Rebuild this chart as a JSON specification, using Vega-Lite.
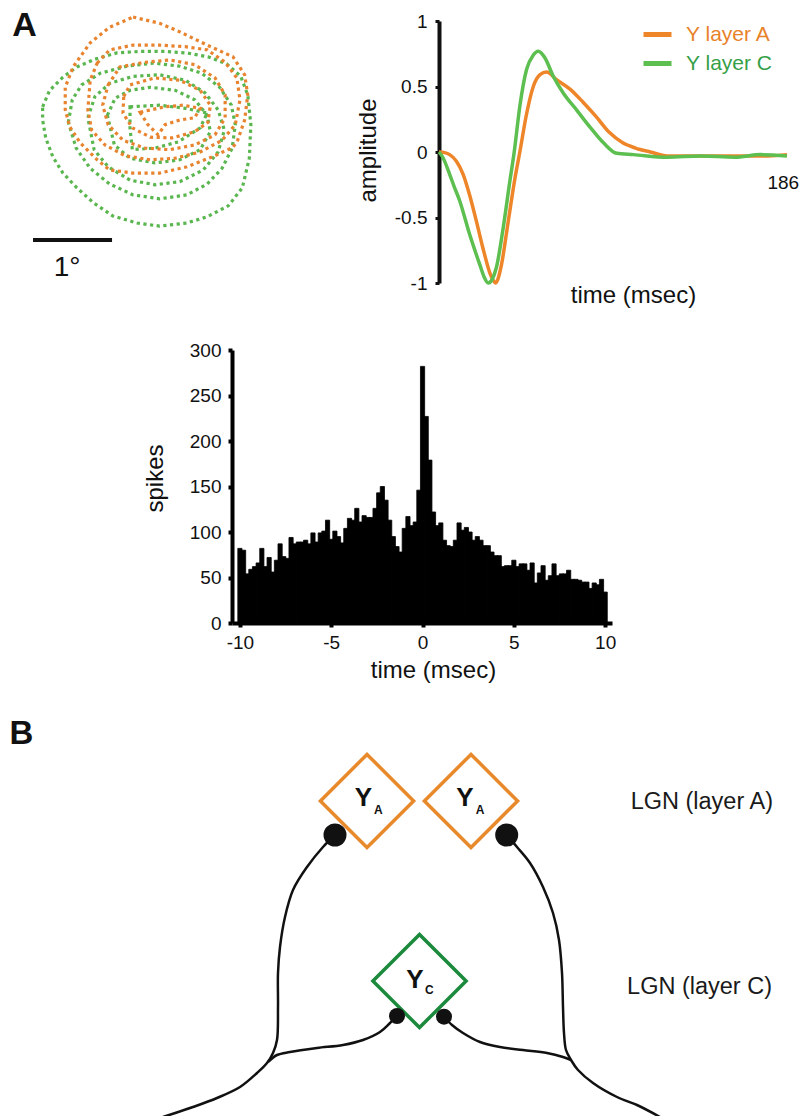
{
"$schema": "https://vega.github.io/schema/vega-lite/v6.json",
"width": 807, "height": 1116,
"autosize": {"type": "none"},
"padding": 0,
"background": "white",
"config": {"view": {"stroke": null}, "font": "Liberation Sans", "axis": {"grid": false}},
"resolve": {"scale": {"x": "independent", "y": "independent", "color": "independent", "stroke": "independent", "size": "independent"}, "axis": {"x": "independent", "y": "independent"}, "legend": {"color": "independent", "stroke": "independent", "size": "independent"}},
"layer": [
{
 "layer": [
  {
   "data": {"values": [
    {"c":"G1","l":"C","x":0.29,"y":1.58},{"c":"G1","l":"C","x":0.38,"y":1.79},{"c":"G1","l":"C","x":0.55,"y":1.96},{"c":"G1","l":"C","x":0.73,"y":2.09},{"c":"G1","l":"C","x":0.96,"y":2.19},{"c":"G1","l":"C","x":1.24,"y":2.27},{"c":"G1","l":"C","x":1.54,"y":2.29},{"c":"G1","l":"C","x":1.83,"y":2.29},{"c":"G1","l":"C","x":2.14,"y":2.27},{"c":"G1","l":"C","x":2.41,"y":2.22},{"c":"G1","l":"C","x":2.65,"y":2.13},{"c":"G1","l":"C","x":2.83,"y":1.97},{"c":"G1","l":"C","x":2.92,"y":1.73},{"c":"G1","l":"C","x":2.96,"y":1.35},{"c":"G1","l":"C","x":2.94,"y":0.92},{"c":"G1","l":"C","x":2.85,"y":0.54},{"c":"G1","l":"C","x":2.67,"y":0.31},{"c":"G1","l":"C","x":2.40,"y":0.17},{"c":"G1","l":"C","x":2.14,"y":0.09},{"c":"G1","l":"C","x":1.79,"y":0.05},{"c":"G1","l":"C","x":1.50,"y":0.09},{"c":"G1","l":"C","x":1.19,"y":0.18},{"c":"G1","l":"C","x":0.94,"y":0.35},{"c":"G1","l":"C","x":0.73,"y":0.54},{"c":"G1","l":"C","x":0.55,"y":0.73},{"c":"G1","l":"C","x":0.42,"y":0.94},{"c":"G1","l":"C","x":0.33,"y":1.18},{"c":"G1","l":"C","x":0.29,"y":1.41},
    {"c":"G2","l":"C","x":0.62,"y":1.38},{"c":"G2","l":"C","x":0.67,"y":1.67},{"c":"G2","l":"C","x":0.79,"y":1.86},{"c":"G2","l":"C","x":1.03,"y":2.01},{"c":"G2","l":"C","x":1.37,"y":2.10},{"c":"G2","l":"C","x":1.71,"y":2.14},{"c":"G2","l":"C","x":2.05,"y":2.10},{"c":"G2","l":"C","x":2.33,"y":2.01},{"c":"G2","l":"C","x":2.56,"y":1.83},{"c":"G2","l":"C","x":2.71,"y":1.60},{"c":"G2","l":"C","x":2.76,"y":1.35},{"c":"G2","l":"C","x":2.72,"y":1.05},{"c":"G2","l":"C","x":2.59,"y":0.79},{"c":"G2","l":"C","x":2.40,"y":0.59},{"c":"G2","l":"C","x":2.14,"y":0.45},{"c":"G2","l":"C","x":1.79,"y":0.40},{"c":"G2","l":"C","x":1.45,"y":0.45},{"c":"G2","l":"C","x":1.15,"y":0.59},{"c":"G2","l":"C","x":0.90,"y":0.79},{"c":"G2","l":"C","x":0.72,"y":1.05},
    {"c":"G3","l":"C","x":0.87,"y":1.44},{"c":"G3","l":"C","x":0.96,"y":1.71},{"c":"G3","l":"C","x":1.15,"y":1.88},{"c":"G3","l":"C","x":1.45,"y":1.97},{"c":"G3","l":"C","x":1.79,"y":1.99},{"c":"G3","l":"C","x":2.12,"y":1.92},{"c":"G3","l":"C","x":2.37,"y":1.76},{"c":"G3","l":"C","x":2.54,"y":1.54},{"c":"G3","l":"C","x":2.62,"y":1.28},{"c":"G3","l":"C","x":2.54,"y":1.00},{"c":"G3","l":"C","x":2.35,"y":0.77},{"c":"G3","l":"C","x":2.05,"y":0.62},{"c":"G3","l":"C","x":1.73,"y":0.58},{"c":"G3","l":"C","x":1.41,"y":0.64},{"c":"G3","l":"C","x":1.13,"y":0.81},{"c":"G3","l":"C","x":0.95,"y":1.03},
    {"c":"G4","l":"C","x":1.12,"y":1.47},{"c":"G4","l":"C","x":1.22,"y":1.69},{"c":"G4","l":"C","x":1.41,"y":1.79},{"c":"G4","l":"C","x":1.67,"y":1.83},{"c":"G4","l":"C","x":1.99,"y":1.79},{"c":"G4","l":"C","x":2.24,"y":1.67},{"c":"G4","l":"C","x":2.40,"y":1.47},{"c":"G4","l":"C","x":2.44,"y":1.26},{"c":"G4","l":"C","x":2.31,"y":1.03},{"c":"G4","l":"C","x":2.05,"y":0.90},{"c":"G4","l":"C","x":1.73,"y":0.86},{"c":"G4","l":"C","x":1.41,"y":0.92},{"c":"G4","l":"C","x":1.21,"y":1.09},
    {"c":"G5","l":"C","x":1.41,"y":1.58},{"c":"G5","l":"C","x":1.79,"y":1.60},{"c":"G5","l":"C","x":2.12,"y":1.56},{"c":"G5","l":"C","x":2.40,"y":1.50},{"c":"G5","l":"C","x":2.31,"y":1.31},{"c":"G5","l":"C","x":2.03,"y":1.13},{"c":"G5","l":"C","x":1.73,"y":1.05},{"c":"G5","l":"C","x":1.44,"y":1.03},{"c":"G5","l":"C","x":1.41,"y":1.31},
    {"c":"O1","l":"A","x":1.45,"y":2.73},{"c":"O1","l":"A","x":1.79,"y":2.65},{"c":"O1","l":"A","x":2.05,"y":2.54},{"c":"O1","l":"A","x":2.40,"y":2.37},{"c":"O1","l":"A","x":2.73,"y":2.22},{"c":"O1","l":"A","x":2.88,"y":1.99},{"c":"O1","l":"A","x":2.92,"y":1.73},{"c":"O1","l":"A","x":2.88,"y":1.41},{"c":"O1","l":"A","x":2.79,"y":1.15},{"c":"O1","l":"A","x":2.73,"y":1.06},{"c":"O1","l":"A","x":2.47,"y":0.94},{"c":"O1","l":"A","x":2.14,"y":0.81},{"c":"O1","l":"A","x":1.79,"y":0.73},{"c":"O1","l":"A","x":1.45,"y":0.73},{"c":"O1","l":"A","x":1.15,"y":0.77},{"c":"O1","l":"A","x":0.99,"y":0.90},{"c":"O1","l":"A","x":0.77,"y":1.12},{"c":"O1","l":"A","x":0.64,"y":1.32},{"c":"O1","l":"A","x":0.58,"y":1.54},{"c":"O1","l":"A","x":0.58,"y":1.83},{"c":"O1","l":"A","x":0.68,"y":2.09},{"c":"O1","l":"A","x":0.90,"y":2.40},{"c":"O1","l":"A","x":1.15,"y":2.60},
    {"c":"O2","l":"A","x":0.99,"y":2.14},{"c":"O2","l":"A","x":1.15,"y":2.31},{"c":"O2","l":"A","x":1.45,"y":2.37},{"c":"O2","l":"A","x":1.79,"y":2.37},{"c":"O2","l":"A","x":2.12,"y":2.35},{"c":"O2","l":"A","x":2.40,"y":2.31},{"c":"O2","l":"A","x":2.63,"y":2.15},{"c":"O2","l":"A","x":2.78,"y":1.95},{"c":"O2","l":"A","x":2.82,"y":1.67},{"c":"O2","l":"A","x":2.76,"y":1.35},{"c":"O2","l":"A","x":2.59,"y":1.15},{"c":"O2","l":"A","x":2.31,"y":1.00},{"c":"O2","l":"A","x":1.99,"y":0.92},{"c":"O2","l":"A","x":1.67,"y":0.90},{"c":"O2","l":"A","x":1.35,"y":0.95},{"c":"O2","l":"A","x":1.09,"y":1.09},{"c":"O2","l":"A","x":0.92,"y":1.28},{"c":"O2","l":"A","x":0.87,"y":1.54},{"c":"O2","l":"A","x":0.90,"y":1.92},
    {"c":"O3","l":"A","x":1.13,"y":1.86},{"c":"O3","l":"A","x":1.28,"y":2.09},{"c":"O3","l":"A","x":1.60,"y":2.15},{"c":"O3","l":"A","x":1.92,"y":2.18},{"c":"O3","l":"A","x":2.24,"y":2.12},{"c":"O3","l":"A","x":2.50,"y":1.95},{"c":"O3","l":"A","x":2.63,"y":1.73},{"c":"O3","l":"A","x":2.63,"y":1.44},{"c":"O3","l":"A","x":2.50,"y":1.22},{"c":"O3","l":"A","x":2.24,"y":1.09},{"c":"O3","l":"A","x":1.92,"y":1.03},{"c":"O3","l":"A","x":1.60,"y":1.05},{"c":"O3","l":"A","x":1.32,"y":1.15},{"c":"O3","l":"A","x":1.13,"y":1.35},{"c":"O3","l":"A","x":1.06,"y":1.60},
    {"c":"O4","l":"A","x":1.33,"y":1.71},{"c":"O4","l":"A","x":1.41,"y":1.86},{"c":"O4","l":"A","x":1.73,"y":1.95},{"c":"O4","l":"A","x":2.05,"y":1.92},{"c":"O4","l":"A","x":2.31,"y":1.79},{"c":"O4","l":"A","x":2.44,"y":1.60},{"c":"O4","l":"A","x":2.41,"y":1.38},{"c":"O4","l":"A","x":2.24,"y":1.26},{"c":"O4","l":"A","x":1.95,"y":1.18},{"c":"O4","l":"A","x":1.67,"y":1.19},{"c":"O4","l":"A","x":1.44,"y":1.31},{"c":"O4","l":"A","x":1.32,"y":1.50},
    {"c":"O5","l":"A","x":1.54,"y":1.51},{"c":"O5","l":"A","x":1.86,"y":1.58},{"c":"O5","l":"A","x":2.09,"y":1.60},{"c":"O5","l":"A","x":2.31,"y":1.56},{"c":"O5","l":"A","x":2.24,"y":1.44},{"c":"O5","l":"A","x":2.05,"y":1.41},{"c":"O5","l":"A","x":1.86,"y":1.35},{"c":"O5","l":"A","x":1.77,"y":1.22},{"c":"O5","l":"A","x":1.64,"y":1.35}
   ]},
   "mark": {"type": "line", "interpolate": "linear-closed", "strokeDash": [3.2, 3.5], "strokeWidth": 3.2},
   "encoding": {
    "x": {"field": "x", "type": "quantitative", "scale": {"domain": [-0.2564, 3.0769], "range": [0, 260], "nice": false, "zero": false}, "axis": null},
    "y": {"field": "y", "type": "quantitative", "scale": {"domain": [-0.7692, 2.9487], "range": [290, 0], "nice": false, "zero": false}, "axis": null},
    "detail": {"field": "c"},
    "order": {"value": null},
    "stroke": {"field": "l", "type": "nominal", "scale": {"domain": ["A", "C"], "range": ["#e8842f", "#5ab64f"]}, "legend": null}
   }
  },
  {
   "data": {"values": [{"x": 0.167, "x2": 1.18, "y": -0.128}]},
   "mark": {"type": "rule", "color": "#111", "strokeWidth": 4},
   "encoding": {"x": {"field": "x", "type": "quantitative"}, "x2": {"field": "x2"}, "y": {"field": "y", "type": "quantitative"}}
  },
  {
   "data": {"values": [{"x": 0.603, "y": -0.49, "t": "1°"}]},
   "mark": {"type": "text", "fontSize": 28, "align": "center", "baseline": "middle", "color": "#111"},
   "encoding": {"x": {"field": "x", "type": "quantitative"}, "y": {"field": "y", "type": "quantitative"}, "text": {"field": "t"}}
  },
  {
   "data": {"values": [{"x": 0.058, "y": 2.62, "t": "A"}]},
   "mark": {"type": "text", "fontSize": 34, "fontWeight": "bold", "align": "center", "baseline": "middle", "color": "#111"},
   "encoding": {"x": {"field": "x", "type": "quantitative"}, "y": {"field": "y", "type": "quantitative"}, "text": {"field": "t"}}
  }
 ]
},
{
 "layer": [
  {
   "data": {"values": [
    {"s":"Y layer A","t":0,"a":0},{"s":"Y layer A","t":3,"a":-0.005},{"s":"Y layer A","t":5.7,"a":-0.02},{"s":"Y layer A","t":9.3,"a":-0.07},{"s":"Y layer A","t":12.9,"a":-0.17},{"s":"Y layer A","t":16.4,"a":-0.33},{"s":"Y layer A","t":20,"a":-0.53},{"s":"Y layer A","t":23.6,"a":-0.74},{"s":"Y layer A","t":27.1,"a":-0.92},{"s":"Y layer A","t":29,"a":-0.98},{"s":"Y layer A","t":30.2,"a":-1.0},{"s":"Y layer A","t":31.5,"a":-0.97},{"s":"Y layer A","t":33.4,"a":-0.86},{"s":"Y layer A","t":37,"a":-0.53},{"s":"Y layer A","t":40.6,"a":-0.2},{"s":"Y layer A","t":43.2,"a":0},{"s":"Y layer A","t":46.8,"a":0.29},{"s":"Y layer A","t":50.4,"a":0.5},{"s":"Y layer A","t":54,"a":0.59},{"s":"Y layer A","t":57.5,"a":0.61},{"s":"Y layer A","t":63,"a":0.55},{"s":"Y layer A","t":70,"a":0.48},{"s":"Y layer A","t":77,"a":0.38},{"s":"Y layer A","t":84,"a":0.27},{"s":"Y layer A","t":91,"a":0.15},{"s":"Y layer A","t":98.2,"a":0.07},{"s":"Y layer A","t":105,"a":0.03},{"s":"Y layer A","t":113,"a":0},{"s":"Y layer A","t":122,"a":-0.03},{"s":"Y layer A","t":140,"a":-0.03},{"s":"Y layer A","t":158,"a":-0.03},{"s":"Y layer A","t":176,"a":-0.03},{"s":"Y layer A","t":186,"a":-0.02},
    {"s":"Y layer C","t":0,"a":0},{"s":"Y layer C","t":2,"a":-0.04},{"s":"Y layer C","t":5.7,"a":-0.17},{"s":"Y layer C","t":8,"a":-0.26},{"s":"Y layer C","t":11,"a":-0.37},{"s":"Y layer C","t":16.4,"a":-0.63},{"s":"Y layer C","t":21.8,"a":-0.86},{"s":"Y layer C","t":24,"a":-0.95},{"s":"Y layer C","t":26.3,"a":-1.0},{"s":"Y layer C","t":28.5,"a":-0.97},{"s":"Y layer C","t":30.7,"a":-0.88},{"s":"Y layer C","t":34.3,"a":-0.58},{"s":"Y layer C","t":37.9,"a":-0.22},{"s":"Y layer C","t":40.2,"a":0},{"s":"Y layer C","t":43.2,"a":0.35},{"s":"Y layer C","t":46.8,"a":0.63},{"s":"Y layer C","t":50.4,"a":0.74},{"s":"Y layer C","t":53,"a":0.77},{"s":"Y layer C","t":56.6,"a":0.72},{"s":"Y layer C","t":61,"a":0.58},{"s":"Y layer C","t":66.4,"a":0.45},{"s":"Y layer C","t":73.6,"a":0.32},{"s":"Y layer C","t":80.7,"a":0.19},{"s":"Y layer C","t":87.9,"a":0.07},{"s":"Y layer C","t":95,"a":-0.01},{"s":"Y layer C","t":104,"a":-0.02},{"s":"Y layer C","t":122,"a":-0.04},{"s":"Y layer C","t":140,"a":-0.03},{"s":"Y layer C","t":158,"a":-0.04},{"s":"Y layer C","t":172,"a":-0.02},{"s":"Y layer C","t":186,"a":-0.03}
   ]},
   "mark": {"type": "line", "interpolate": "monotone", "strokeWidth": 3.5},
   "encoding": {
    "x": {"field": "t", "type": "quantitative", "scale": {"domain": [0, 186], "range": [439, 787], "nice": false, "zero": false},
          "axis": {"orient": "bottom", "offset": -833, "domain": false, "ticks": false, "labels": false, "title": "time (msec)", "titleFontSize": 24, "titleFontWeight": "normal", "titleColor": "#111", "titleX": 633, "titleY": 12, "titleBaseline": "middle", "titleAlign": "center"}},
    "y": {"field": "a", "type": "quantitative", "scale": {"domain": [-1, 1], "range": [283, 21], "nice": false, "zero": false},
          "axis": {"orient": "left", "offset": -439, "values": [-1, -0.5, 0, 0.5, 1], "labelExpr": "toString(datum.value)", "domainColor": "#111", "domainWidth": 4, "tickColor": "#111", "tickWidth": 3, "tickSize": 4, "labelFontSize": 19, "labelPadding": 8, "labelColor": "#111", "labelFlush": false, "labelOverlap": false, "title": "amplitude", "titleFontSize": 24, "titleFontWeight": "normal", "titleColor": "#111", "titleX": -71, "titleY": 150, "titleAngle": -90, "titleBaseline": "middle", "titleAlign": "center"}},
    "color": {"field": "s", "type": "nominal", "scale": {"domain": ["Y layer A", "Y layer C"], "range": ["#ee8529", "#5cbf4f"]},
      "legend": {"orient": "none", "legendX": 641, "legendY": 18, "title": null, "symbolType": "stroke", "symbolSize": 784, "symbolStrokeWidth": 5, "labelFontSize": 21, "labelOffset": 12, "rowPadding": 2, "padding": 0,
        "encode": {"labels": {"update": {"fill": {"signal": "datum.label === 'Y layer A' ? '#e8822a' : '#35a047'"}}}}}}
   }
  },
  {
   "mark": {"type": "rule", "color": "#111", "strokeWidth": 4},
   "encoding": {"x": {"datum": 0}, "x2": {"datum": 186}, "y": {"datum": 0}}
  },
  {
   "data": {"values": [{"t": 184, "a": -0.24, "label": "186"}]},
   "mark": {"type": "text", "fontSize": 19, "align": "center", "baseline": "middle", "color": "#111"},
   "encoding": {"x": {"field": "t", "type": "quantitative"}, "y": {"field": "a", "type": "quantitative"}, "text": {"field": "label"}}
  }
 ]
},
{
 "data": {"values": [
  {"t":-10,"n":82},{"t":-9.8,"n":80},{"t":-9.6,"n":54},{"t":-9.4,"n":59},{"t":-9.2,"n":62},{"t":-9,"n":66},{"t":-8.8,"n":82},{"t":-8.6,"n":62},{"t":-8.4,"n":72},{"t":-8.2,"n":56},
  {"t":-8,"n":69},{"t":-7.8,"n":87},{"t":-7.6,"n":73},{"t":-7.4,"n":71},{"t":-7.2,"n":94},{"t":-7,"n":87},{"t":-6.8,"n":89},{"t":-6.6,"n":89},{"t":-6.4,"n":91},{"t":-6.2,"n":87},
  {"t":-6,"n":99},{"t":-5.8,"n":89},{"t":-5.6,"n":99},{"t":-5.4,"n":101},{"t":-5.2,"n":113},{"t":-5,"n":92},{"t":-4.8,"n":101},{"t":-4.6,"n":95},{"t":-4.4,"n":88},{"t":-4.2,"n":104},
  {"t":-4,"n":115},{"t":-3.8,"n":113},{"t":-3.6,"n":126},{"t":-3.4,"n":111},{"t":-3.2,"n":118},{"t":-3,"n":116},{"t":-2.8,"n":116},{"t":-2.6,"n":126},{"t":-2.4,"n":143},{"t":-2.2,"n":150},
  {"t":-2,"n":135},{"t":-1.8,"n":113},{"t":-1.6,"n":95},{"t":-1.4,"n":84},{"t":-1.2,"n":78},{"t":-1,"n":104},{"t":-0.8,"n":117},{"t":-0.6,"n":107},{"t":-0.4,"n":111},{"t":-0.2,"n":146},
  {"t":0,"n":282},{"t":0.2,"n":227},{"t":0.4,"n":179},{"t":0.6,"n":122},{"t":0.8,"n":107},{"t":1,"n":110},{"t":1.2,"n":91},{"t":1.4,"n":85},{"t":1.6,"n":84},{"t":1.8,"n":91},
  {"t":2,"n":110},{"t":2.2,"n":102},{"t":2.4,"n":105},{"t":2.6,"n":100},{"t":2.8,"n":91},{"t":3,"n":95},{"t":3.2,"n":91},{"t":3.4,"n":85},{"t":3.6,"n":85},{"t":3.8,"n":78},
  {"t":4,"n":74},{"t":4.2,"n":74},{"t":4.4,"n":62},{"t":4.6,"n":63},{"t":4.8,"n":63},{"t":5,"n":69},{"t":5.2,"n":62},{"t":5.4,"n":65},{"t":5.6,"n":65},{"t":5.8,"n":58},
  {"t":6,"n":66},{"t":6.2,"n":44},{"t":6.4,"n":55},{"t":6.6,"n":63},{"t":6.8,"n":47},{"t":7,"n":52},{"t":7.2,"n":65},{"t":7.4,"n":52},{"t":7.6,"n":54},{"t":7.8,"n":54},
  {"t":8,"n":58},{"t":8.2,"n":48},{"t":8.4,"n":48},{"t":8.6,"n":47},{"t":8.8,"n":45},{"t":9,"n":45},{"t":9.2,"n":38},{"t":9.4,"n":44},{"t":9.6,"n":42},{"t":9.8,"n":48},
  {"t":10,"n":34}
 ]},
 "mark": {"type": "bar", "width": 4.2, "color": "#000", "stroke": "#000", "strokeWidth": 0.8, "strokeJoin": "miter"},
 "encoding": {
  "x": {"field": "t", "type": "quantitative", "scale": {"domain": [-10.16, 10.1], "range": [232, 612], "nice": false, "zero": false},
        "axis": {"orient": "bottom", "offset": -493, "values": [-10, -5, 0, 5, 10], "labelExpr": "toString(datum.value)", "domainColor": "#000", "domainWidth": 4, "tickColor": "#000", "tickWidth": 4, "tickSize": 4, "labelFontSize": 19, "labelPadding": 6, "labelColor": "#111", "labelFlush": false, "labelOverlap": false, "title": "time (msec)", "titleFontSize": 24, "titleFontWeight": "normal", "titleColor": "#111", "titleX": 433, "titleY": 47, "titleBaseline": "middle", "titleAlign": "center"}},
  "y": {"field": "n", "type": "quantitative", "scale": {"domain": [0, 300], "range": [623, 350], "nice": false, "zero": false},
        "axis": {"orient": "left", "offset": -232, "values": [0, 50, 100, 150, 200, 250, 300], "domainColor": "#000", "domainWidth": 4, "tickColor": "#000", "tickWidth": 4, "tickSize": 4, "labelFontSize": 19, "labelPadding": 7, "labelColor": "#111", "labelFlush": false, "labelOverlap": false, "title": "spikes", "titleFontSize": 24, "titleFontWeight": "normal", "titleColor": "#111", "titleX": -77, "titleY": 478, "titleAngle": -90, "titleBaseline": "middle", "titleAlign": "center"}}
 }
},
{
 "layer": [
  {
   "data": {"values": [
    {"p":"L","x":-8.45,"y":14.6},{"p":"L","x":-9.65,"y":13.4},{"p":"L","x":-11.25,"y":11.4},{"p":"L","x":-12.65,"y":9.1},{"p":"L","x":-13.45,"y":6.4},{"p":"L","x":-13.95,"y":3.4},{"p":"L","x":-14.15,"y":0.8},{"p":"L","x":-14.15,"y":-2.6},{"p":"L","x":-14.25,"y":-5.9},{"p":"L","x":-14.65,"y":-7.2},{"p":"L","x":-15.25,"y":-8.2},{"p":"L","x":-16.25,"y":-9.2},{"p":"L","x":-17.95,"y":-10.6},{"p":"L","x":-20.25,"y":-11.7},{"p":"L","x":-22.65,"y":-12.6},{"p":"L","x":-25.65,"y":-13.6},
    {"p":"LB","x":-2.25,"y":-3.5},{"p":"LB","x":-2.95,"y":-4.2},{"p":"LB","x":-3.95,"y":-5.1},{"p":"LB","x":-5.65,"y":-5.9},{"p":"LB","x":-7.65,"y":-6.4},{"p":"LB","x":-10.25,"y":-6.7},{"p":"LB","x":-12.95,"y":-7.1},{"p":"LB","x":-14.25,"y":-7.4},{"p":"LB","x":-15.15,"y":-8.1},
    {"p":"R","x":8.72,"y":14.6},{"p":"R","x":9.75,"y":13.4},{"p":"R","x":11.05,"y":11.8},{"p":"R","x":12.35,"y":9.4},{"p":"R","x":13.35,"y":6.8},{"p":"R","x":13.95,"y":4.1},{"p":"R","x":14.25,"y":0.8},{"p":"R","x":14.35,"y":-2.6},{"p":"R","x":14.45,"y":-5.2},{"p":"R","x":14.65,"y":-6.9},{"p":"R","x":15.15,"y":-7.9},{"p":"R","x":15.85,"y":-8.9},{"p":"R","x":17.35,"y":-10.2},{"p":"R","x":19.75,"y":-11.6},{"p":"R","x":21.75,"y":-12.4},{"p":"R","x":24.05,"y":-13.6},
    {"p":"RB","x":2.45,"y":-3.6},{"p":"RB","x":3.25,"y":-4.4},{"p":"RB","x":4.35,"y":-5.2},{"p":"RB","x":6.05,"y":-6.1},{"p":"RB","x":8.05,"y":-6.6},{"p":"RB","x":10.35,"y":-6.9},{"p":"RB","x":12.75,"y":-7.2},{"p":"RB","x":14.35,"y":-7.6},{"p":"RB","x":15.15,"y":-7.9}
   ]},
   "mark": {"type": "line", "interpolate": "catmull-rom", "color": "#111", "strokeWidth": 2.5},
   "encoding": {
    "x": {"field": "x", "type": "quantitative", "scale": {"domain": [-41.95, 38.75], "range": [0, 807], "nice": false, "zero": false}, "axis": null},
    "y": {"field": "y", "type": "quantitative", "scale": {"domain": [-13.5, 28.1], "range": [1116, 700], "nice": false, "zero": false}, "axis": null},
    "detail": {"field": "p"},
    "order": {"value": null}
   }
  },
  {
   "data": {"values": [{"x": -5.25, "y": 18.0, "l": "A"}, {"x": 5.15, "y": 18.0, "l": "A"}, {"x": 0, "y": 0, "l": "C"}]},
   "mark": {"type": "point", "shape": "diamond", "filled": false, "size": 8686, "strokeWidth": 3.5, "opacity": 1},
   "encoding": {
    "x": {"field": "x", "type": "quantitative"}, "y": {"field": "y", "type": "quantitative"},
    "stroke": {"field": "l", "type": "nominal", "scale": {"domain": ["A", "C"], "range": ["#e8892b", "#1b8a3c"]}, "legend": null}
   }
  },
  {
   "data": {"values": [{"x": -8.45, "y": 14.6, "l": "A"}, {"x": 8.72, "y": 14.6, "l": "A"}, {"x": -2.25, "y": -3.5, "l": "C"}, {"x": 2.45, "y": -3.57, "l": "C"}]},
   "mark": {"type": "point", "shape": "circle", "filled": true, "color": "#111", "opacity": 1},
   "encoding": {
    "x": {"field": "x", "type": "quantitative"}, "y": {"field": "y", "type": "quantitative"},
    "size": {"field": "l", "type": "nominal", "scale": {"domain": ["A", "C"], "range": [529, 256]}, "legend": null}
   }
  },
  {
   "data": {"values": [{"x": -5.62, "y": 18.27, "t": "Y"}, {"x": 4.55, "y": 18.27, "t": "Y"}, {"x": -0.45, "y": 0.1, "t": "Y"}]},
   "mark": {"type": "text", "fontSize": 26, "fontWeight": "bold", "align": "center", "baseline": "middle", "color": "#111"},
   "encoding": {"x": {"field": "x", "type": "quantitative"}, "y": {"field": "y", "type": "quantitative"}, "text": {"field": "t"}}
  },
  {
   "data": {"values": [{"x": -4.12, "y": 17.13, "t": "A"}, {"x": 6.05, "y": 17.1, "t": "A"}, {"x": 0.98, "y": -0.93, "t": "C"}]},
   "mark": {"type": "text", "fontSize": 12, "fontWeight": "bold", "align": "center", "baseline": "middle", "color": "#111"},
   "encoding": {"x": {"field": "x", "type": "quantitative"}, "y": {"field": "y", "type": "quantitative"}, "text": {"field": "t"}}
  },
  {
   "data": {"values": [{"x": 35.35, "y": 17.9, "t": "LGN (layer A)"}, {"x": 35.25, "y": -0.6, "t": "LGN (layer C)"}]},
   "mark": {"type": "text", "fontSize": 23.5, "align": "right", "baseline": "middle", "color": "#1a1a1a"},
   "encoding": {"x": {"field": "x", "type": "quantitative"}, "y": {"field": "y", "type": "quantitative"}, "text": {"field": "t"}}
  },
  {
   "data": {"values": [{"x": -39.8, "y": 24.7, "t": "B"}]},
   "mark": {"type": "text", "fontSize": 33, "fontWeight": "bold", "align": "center", "baseline": "middle", "color": "#111"},
   "encoding": {"x": {"field": "x", "type": "quantitative"}, "y": {"field": "y", "type": "quantitative"}, "text": {"field": "t"}}
  }
 ]
}
]
}
